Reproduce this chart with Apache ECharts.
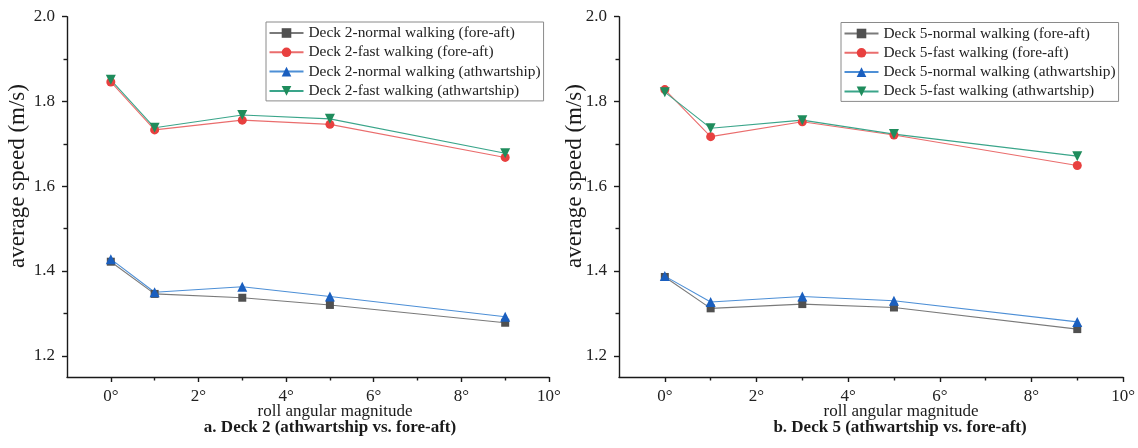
<!DOCTYPE html>
<html>
<head>
<meta charset="utf-8">
<script src="https://cdn.jsdelivr.net/npm/echarts@6/dist/echarts.min.js"></script>
<style>
  html, body { margin: 0; padding: 0; background: #fff; }
  #chart { width: 1138px; height: 448px; }
</style>
</head>
<body>
<div id="chart"></div>
<script>
// ---------- data ----------
const rollAngles = [0, 1, 3, 5, 9];

const deck2NormalForeAft   = [1.422, 1.346, 1.337, 1.320, 1.278];
const deck2FastForeAft     = [1.846, 1.733, 1.756, 1.746, 1.668];
const deck2NormalAthwart   = [1.428, 1.350, 1.363, 1.340, 1.292];
const deck2FastAthwart     = [1.851, 1.738, 1.768, 1.759, 1.678];

const deck5NormalForeAft   = [1.386, 1.312, 1.322, 1.314, 1.263];
const deck5FastForeAft     = [1.828, 1.717, 1.752, 1.721, 1.649];
const deck5NormalAthwart   = [1.388, 1.327, 1.340, 1.330, 1.280];
const deck5FastAthwart     = [1.822, 1.737, 1.756, 1.723, 1.671];

const deck2Names = [
  'Deck 2-normal walking (fore-aft)',
  'Deck 2-fast walking (fore-aft)',
  'Deck 2-normal walking (athwartship)',
  'Deck 2-fast walking (athwartship)'
];
const deck5Names = [
  'Deck 5-normal walking (fore-aft)',
  'Deck 5-fast walking (fore-aft)',
  'Deck 5-normal walking (athwartship)',
  'Deck 5-fast walking (athwartship)'
];

const xMajorTicks = [0, 2, 4, 6, 8, 10];
const xMinorTicks = [1, 3, 5, 7, 9];
const yMajorTicks = [1.2, 1.4, 1.6, 1.8, 2.0];
const yMinorTicks = [1.3, 1.5, 1.7, 1.9];

const yAxisTitle = 'average speed (m/s)';
const xAxisTitle = 'roll angular magnitude';
const panelTitles = ['a. Deck 2 (athwartship vs. fore-aft)', 'b. Deck 5 (athwartship vs. fore-aft)'];

// ---------- styling ----------
const FONT = "'Liberation Serif', 'Times New Roman', serif";
const AX = '#1a1a1a';
const styles = [
  { symbol: 'rect',     size: 8,  rotate: 0,   marker: '#505050', line: '#7a7a7a' },
  { symbol: 'circle',   size: 9,  rotate: 0,   marker: '#e8403f', line: '#ea6d6d' },
  { symbol: 'triangle', size: 10, rotate: 0,   marker: '#1a5fbf', line: '#4d8fd6' },
  { symbol: 'triangle', size: 10, rotate: 180, marker: '#1f8c5c', line: '#3aa58a' }
];

function pairs(arr) { return rollAngles.map((x, i) => [x, arr[i]]); }

function mkSeries(names, arrays, axisIdx) {
  return names.map((name, i) => ({
    name: name,
    type: 'line',
    xAxisIndex: axisIdx,
    yAxisIndex: axisIdx,
    data: pairs(arrays[i]),
    symbol: styles[i].symbol,
    symbolSize: styles[i].size,
    symbolRotate: styles[i].rotate,
    showAllSymbol: true,
    itemStyle: { color: styles[i].marker, borderWidth: 0 },
    lineStyle: { color: styles[i].line, width: 1.1 },
    emphasis: { disabled: true },
    animation: false
  }));
}

function mkXAxes(g) {
  return [
    {
      type: 'value', gridIndex: g, position: 'bottom', min: -1, max: 10,
      axisLine: { show: true, onZero: false, lineStyle: { color: AX, width: 1.4 } },
      axisTick: { show: true, customValues: xMajorTicks, length: 5, lineStyle: { color: AX, width: 1.4 } },
      axisLabel: { customValues: xMajorTicks, formatter: v => v + '°', margin: 11,
                   fontFamily: FONT, fontSize: 17, color: '#222' },
      splitLine: { show: false }
    },
    {
      type: 'value', gridIndex: g, position: 'bottom', offset: 0, min: -1, max: 10,
      axisLine: { show: false, onZero: false },
      axisTick: { show: true, customValues: xMinorTicks, length: 3.5, lineStyle: { color: AX, width: 1.4 } },
      axisLabel: { show: false },
      splitLine: { show: false }
    }
  ];
}
function mkYAxes(g) {
  return [
    {
      type: 'value', gridIndex: g, position: 'left', min: 1.15, max: 2.0,
      axisLine: { show: true, onZero: false, lineStyle: { color: AX, width: 1.4 } },
      axisTick: { show: true, customValues: yMajorTicks, length: 5, lineStyle: { color: AX, width: 1.4 } },
      axisLabel: { customValues: yMajorTicks, formatter: v => v.toFixed(1), margin: 12,
                   fontFamily: FONT, fontSize: 17, color: '#222' },
      splitLine: { show: false }
    },
    {
      type: 'value', gridIndex: g, position: 'left', offset: 0, min: 1.15, max: 2.0,
      axisLine: { show: false, onZero: false },
      axisTick: { show: true, customValues: yMinorTicks, length: 3.5, lineStyle: { color: AX, width: 1.4 } },
      axisLabel: { show: false },
      splitLine: { show: false }
    }
  ];
}

function mkLegend(names, left, top) {
  return {
    data: names,
    orient: 'vertical',
    left: left, top: top,
    itemWidth: 34, itemHeight: 12, itemGap: 4.3,
    padding: [3.5, 3, 2.5, 2.5],
    borderColor: '#8a8a8a', borderWidth: 1,
    selectedMode: false,
    textStyle: { fontFamily: FONT, fontSize: 15.4, color: '#222', lineHeight: 15 }
  };
}

function txt(text, x, y, size, bold, rot) {
  return {
    type: 'text', x: x, y: y, rotation: rot || 0, silent: true,
    style: {
      text: text, fill: '#1a1a1a',
      font: (bold ? 'bold ' : '') + size + 'px ' + FONT,
      textAlign: 'center', textVerticalAlign: 'middle',
      align: 'center', verticalAlign: 'middle'
    }
  };
}

const chart = echarts.init(document.getElementById('chart'), null, { renderer: 'canvas' });
chart.setOption({
  backgroundColor: '#ffffff',
  animation: false,
  grid: [
    { left: 67, right: 589, top: 16.7, bottom: 71 },
    { left: 619, right: 13, top: 16.7, bottom: 71 }
  ],
  xAxis: [...mkXAxes(0), ...mkXAxes(1)],
  yAxis: [...mkYAxes(0), ...mkYAxes(1)],
  legend: [mkLegend(deck2Names, 266, 22), mkLegend(deck5Names, 841, 22.5)],
  series: [
    ...mkSeries(deck2Names, [deck2NormalForeAft, deck2FastForeAft, deck2NormalAthwart, deck2FastAthwart], 0),
    ...mkSeries(deck5Names, [deck5NormalForeAft, deck5FastForeAft, deck5NormalAthwart, deck5FastAthwart], 2)
  ],
  graphic: [
    txt(yAxisTitle, 18, 176, 23, false, Math.PI / 2),
    txt(yAxisTitle, 575, 176, 23, false, Math.PI / 2),
    txt(xAxisTitle, 335, 412, 17, false),
    txt(xAxisTitle, 901, 412, 17, false),
    txt(panelTitles[0], 330, 428, 17, true),
    txt(panelTitles[1], 900, 428, 17, true)
  ]
});
</script>
</body>
</html>
